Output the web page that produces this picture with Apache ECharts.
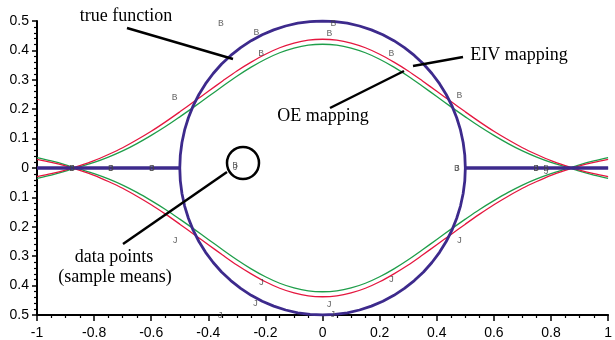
<!DOCTYPE html>
<html>
<head>
<meta charset="utf-8">
<script src="https://cdn.jsdelivr.net/npm/echarts@6/dist/echarts.min.js"></script>
<style>
  html, body { margin: 0; padding: 0; background: #fff; }
  #chart { width: 615px; height: 340px; }
</style>
</head>
<body>
<div id="chart"></div>
<script>
// x positions shared by the two mapping curves
const curveX = [-1, -0.95, -0.9, -0.85, -0.8, -0.75, -0.7, -0.65, -0.6, -0.55, -0.5,
  -0.45, -0.4, -0.35, -0.3, -0.25, -0.2, -0.15, -0.1, -0.05, 0,
  0.05, 0.1, 0.15, 0.2, 0.25, 0.3, 0.35, 0.4, 0.45, 0.5,
  0.55, 0.6, 0.65, 0.7, 0.75, 0.8, 0.85, 0.9, 0.95, 1];

// EIV mapping (red), upper and lower branches
const eivUpper = [-0.029, -0.019, -0.007, 0.008, 0.025, 0.046, 0.069, 0.096, 0.125, 0.157, 0.191,
  0.226, 0.261, 0.296, 0.330, 0.360, 0.387, 0.409, 0.425, 0.435, 0.438,
  0.435, 0.425, 0.409, 0.387, 0.360, 0.330, 0.296, 0.261, 0.226, 0.191,
  0.157, 0.125, 0.096, 0.069, 0.046, 0.025, 0.008, -0.007, -0.019, -0.029];
const eivLower = [0.029, 0.019, 0.007, -0.008, -0.025, -0.046, -0.069, -0.096, -0.125, -0.157, -0.191,
  -0.226, -0.261, -0.296, -0.330, -0.360, -0.387, -0.409, -0.425, -0.435, -0.438,
  -0.435, -0.425, -0.409, -0.387, -0.360, -0.330, -0.296, -0.261, -0.226, -0.191,
  -0.157, -0.125, -0.096, -0.069, -0.046, -0.025, -0.008, 0.007, 0.019, 0.029];

// OE mapping (green), upper and lower branches
const oeUpper = [-0.035, -0.024, -0.011, 0.004, 0.019, 0.037, 0.058, 0.083, 0.111, 0.141, 0.174,
  0.208, 0.243, 0.278, 0.312, 0.343, 0.370, 0.392, 0.408, 0.418, 0.421,
  0.418, 0.408, 0.392, 0.370, 0.343, 0.312, 0.278, 0.243, 0.208, 0.174,
  0.141, 0.111, 0.083, 0.058, 0.037, 0.019, 0.004, -0.011, -0.024, -0.035];
const oeLower = [0.035, 0.024, 0.011, -0.004, -0.019, -0.037, -0.058, -0.083, -0.111, -0.141, -0.174,
  -0.208, -0.243, -0.278, -0.312, -0.343, -0.370, -0.392, -0.408, -0.418, -0.421,
  -0.418, -0.408, -0.392, -0.370, -0.343, -0.312, -0.278, -0.243, -0.208, -0.174,
  -0.141, -0.111, -0.083, -0.058, -0.037, -0.019, -0.004, 0.011, 0.024, 0.035];

// true function: flat at zero outside |x| < 0.5, circle of radius 0.5 inside
const trueX = [-1, -0.5, -0.4981, -0.4924, -0.4830, -0.4698, -0.4532, -0.4330, -0.4096, -0.3830,
  -0.3536, -0.3214, -0.2868, -0.25, -0.2113, -0.1710, -0.1294, -0.0868, -0.0436, 0,
  0.0436, 0.0868, 0.1294, 0.1710, 0.2113, 0.25, 0.2868, 0.3214, 0.3536,
  0.3830, 0.4096, 0.4330, 0.4532, 0.4698, 0.4830, 0.4924, 0.4981, 0.5, 1];
const trueUpper = [0, 0, 0.0436, 0.0868, 0.1294, 0.1710, 0.2113, 0.25, 0.2868, 0.3214,
  0.3536, 0.3830, 0.4096, 0.4330, 0.4532, 0.4698, 0.4830, 0.4924, 0.4981, 0.5,
  0.4981, 0.4924, 0.4830, 0.4698, 0.4532, 0.4330, 0.4096, 0.3830, 0.3536,
  0.3214, 0.2868, 0.25, 0.2113, 0.1710, 0.1294, 0.0868, 0.0436, 0, 0];
const trueLower = [0, 0, -0.0436, -0.0868, -0.1294, -0.1710, -0.2113, -0.25, -0.2868, -0.3214,
  -0.3536, -0.3830, -0.4096, -0.4330, -0.4532, -0.4698, -0.4830, -0.4924, -0.4981, -0.5,
  -0.4981, -0.4924, -0.4830, -0.4698, -0.4532, -0.4330, -0.4096, -0.3830, -0.3536,
  -0.3214, -0.2868, -0.25, -0.2113, -0.1710, -0.1294, -0.0868, -0.0436, 0, 0];

// sample means: "B" marks the upper samples, "J" the lower ones
const upperMeansX = [-0.877, -0.741, -0.598, -0.518, -0.356, -0.306, -0.232, -0.215, 0.024, 0.038, 0.241, 0.470, 0.479, 0.748, 0.783];
const upperMeansY = [0, 0, 0, 0.241, 0.490, 0.008, 0.461, 0.390, 0.457, 0.492, 0.390, 0, 0.245, 0, 0];
const lowerMeansX = [-0.877, -0.741, -0.598, -0.516, -0.359, -0.306, -0.235, -0.214, 0.023, 0.035, 0.241, 0.470, 0.479, 0.748, 0.783];
const lowerMeansY = [0, 0, 0, -0.245, -0.503, 0.002, -0.460, -0.389, -0.464, -0.497, -0.379, 0, -0.248, 0, -0.012];

const xTickMin = -1, xTickMax = 1, xTickStep = 0.2;
const yTickMin = -0.5, yTickMax = 0.5, yTickStep = 0.1;

const pairs = (xs, ys) => xs.map((x, i) => [x, ys[i]]);

const RED = '#e5173f';
const GREEN = '#1f9e4a';
const PURPLE = '#3d2a8c';
const axisFont = { fontFamily: 'Liberation Sans, Arial, sans-serif', fontSize: 14, color: '#000' };

function curve(name, xs, ys, color, width, z) {
  return {
    name, type: 'line', data: pairs(xs, ys), smooth: name.indexOf('true') < 0 ? 0.3 : false,
    showSymbol: false, symbol: 'none', z,
    lineStyle: { color, width }, animation: false
  };
}
function means(name, xs, ys, glyph) {
  return {
    name, type: 'scatter', data: pairs(xs, ys), symbol: 'circle', symbolSize: 0.1,
    itemStyle: { color: 'rgba(0,0,0,0)' }, clip: false, z: 10, animation: false,
    label: {
      show: true, position: 'inside', formatter: glyph,
      fontFamily: 'Liberation Mono, Courier New, monospace', fontSize: 9.5, color: '#444'
    }
  };
}

const chart = echarts.init(document.getElementById('chart'), null, { renderer: 'canvas' });
const serif = 'Liberation Serif, Times New Roman, serif';
const lead = (x1, y1, x2, y2) => ({
  type: 'line', shape: { x1, y1, x2, y2 }, z: 20,
  style: { stroke: '#000', lineWidth: 2.5 }
});
const note = (x, y, text) => ({
  type: 'text', x, y, z: 20,
  style: { text, font: '18px ' + serif, fill: '#000', textAlign: 'center', textVerticalAlign: 'middle' }
});

chart.setOption({
  backgroundColor: '#fff',
  animation: false,
  grid: { left: 37, right: 2, top: 21, bottom: 25 },
  xAxis: {
    type: 'value', min: xTickMin, max: xTickMax, interval: xTickStep,
    axisLine: { show: true, onZero: false, lineStyle: { color: '#000', width: 2 } },
    axisTick: { show: true, inside: false, length: 6, lineStyle: { color: '#000', width: 1.5 } },
    minorTick: { show: true, splitNumber: 4, length: 3, lineStyle: { color: '#000', width: 1.2 } },
    splitLine: { show: false },
    axisLabel: Object.assign({ margin: 11 }, axisFont)
  },
  yAxis: {
    type: 'value', min: yTickMin, max: yTickMax, interval: yTickStep,
    axisLine: { show: true, onZero: false, lineStyle: { color: '#000', width: 2 } },
    axisTick: { show: true, inside: false, length: 5, lineStyle: { color: '#000', width: 1.5 } },
    minorTick: { show: true, splitNumber: 5, length: 3, lineStyle: { color: '#000', width: 1.2 } },
    splitLine: { show: false },
    axisLabel: Object.assign({
      margin: 8,
      formatter: v => String(parseFloat(Math.abs(v).toFixed(1)))
    }, axisFont)
  },
  series: [
    curve('OE mapping upper', curveX, oeUpper, GREEN, 1.3, 2),
    curve('OE mapping lower', curveX, oeLower, GREEN, 1.3, 2),
    curve('EIV mapping upper', curveX, eivUpper, RED, 1.3, 3),
    curve('EIV mapping lower', curveX, eivLower, RED, 1.3, 3),
    curve('true function upper', trueX, trueUpper, PURPLE, 2.8, 4),
    curve('true function lower', trueX, trueLower, PURPLE, 2.8, 4),
    means('upper means', upperMeansX, upperMeansY, 'B'),
    means('lower means', lowerMeansX, lowerMeansY, 'J')
  ],
  graphic: [
    note(126, 16, 'true function'),
    lead(127, 28, 233, 59),
    note(519, 55, 'EIV mapping'),
    lead(463, 57, 413, 66),
    note(323, 116, 'OE mapping'),
    lead(330, 108, 404, 71),
    note(114, 257, 'data points'),
    note(115, 277, '(sample means)'),
    lead(123, 244, 227, 172),
    {
      type: 'circle', shape: { cx: 243, cy: 163, r: 16 }, z: 20,
      style: { fill: 'none', stroke: '#000', lineWidth: 2.5 }
    }
  ]
});
</script>
</body>
</html>
